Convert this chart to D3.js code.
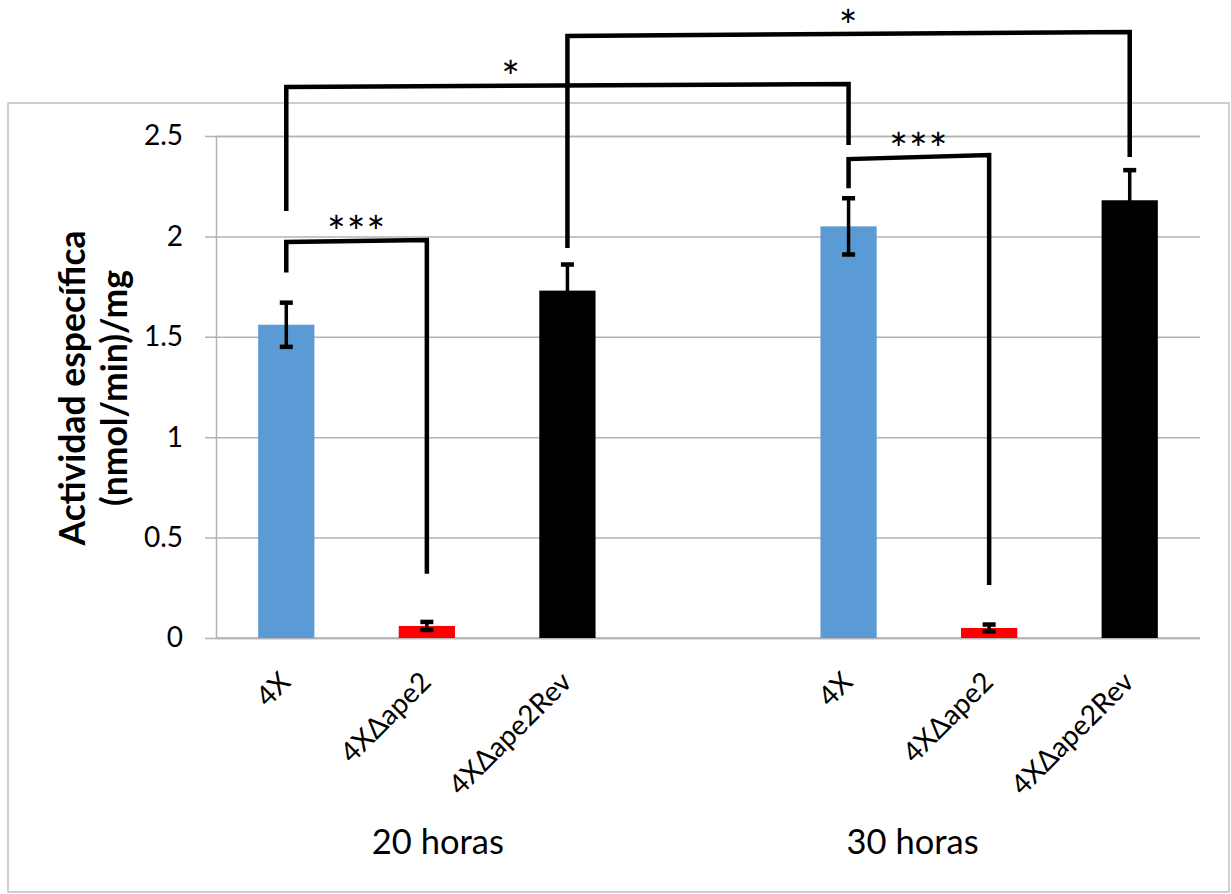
<!DOCTYPE html>
<html>
<head>
<meta charset="utf-8">
<script src="https://cdn.jsdelivr.net/npm/d3@7"></script>
<style>
  body { margin: 0; background: #fff; }
  text { font-family: Lato, "Open Sans", sans-serif; fill: #000; }
</style>
</head>
<body>
<script>
var W = 1231, H = 894;

// data
var times = ["20 horas", "30 horas"];
var strains = ["4X", "4XΔape2", "4XΔape2Rev"];
var colors = ["#5B9BD5", "#FF0000", "#000000"];
var values20 = [1.56, 0.06, 1.73];
var errors20 = [0.11, 0.02, 0.13];
var values30 = [2.05, 0.05, 2.18];
var errors30 = [0.14, 0.017, 0.15];
var yTicks = [0, 0.5, 1, 1.5, 2, 2.5];

// significance brackets: bar index from/to, foot heights and top height in data units
var brackets = [
  {from: 0, to: 1, left: 1.82, right: 0.32, top: [1.972, 1.982], label: "***", at: 0.5},
  {from: 4, to: 5, left: 2.24, right: 0.264, top: [2.385, 2.405], label: "***", at: 0.5},
  {from: 0, to: 4, left: 2.127, right: 2.455, top: [2.744, 2.759], label: "*", at: 0.4},
  {from: 2, to: 6, left: 1.942, right: 2.395, top: [2.998, 3.018], label: "*", at: 0.5}
];

// slots: 3 bars, an empty slot, 3 bars
var bars = [];
strains.forEach((s, i) => bars.push({key: "a" + i, name: s, v: values20[i], e: errors20[i], c: colors[i]}));
bars.push({key: "gap", name: "", v: null});
strains.forEach((s, i) => bars.push({key: "b" + i, name: s, v: values30[i], e: errors30[i], c: colors[i]}));

var svg = d3.select("body").append("svg")
  .attr("width", W).attr("height", H);

// outer chart frame
svg.append("rect")
  .attr("x", 8).attr("y", 103)
  .attr("width", 1221).attr("height", 789)
  .attr("fill", "none").attr("stroke", "#bfbfbf").attr("stroke-width", 1.5);

var x = d3.scaleBand()
  .domain(bars.map(d => d.key))
  .range([216, 1200])
  .paddingInner(0.6)
  .paddingOuter(0.3);

var y = d3.scaleLinear().domain([0, 2.5]).range([638, 136]);

var cx = i => x(bars[i].key) + x.bandwidth() / 2;

// gridlines + y axis
var yAxis = d3.axisLeft(y)
  .tickValues(yTicks)
  .tickFormat(d3.format("~g"))
  .tickSize(-(1200 - 216))
  .tickPadding(33);

var gy = svg.append("g").attr("transform", "translate(216,0)").call(yAxis);
gy.select(".domain").attr("stroke", "#b3b3b3").attr("stroke-width", 1.5);
gy.selectAll(".tick line").attr("stroke", "#b3b3b3").attr("stroke-width", 1.5).attr("x1", -11);
gy.selectAll(".tick text").attr("font-size", 28).attr("font-family", "Lato");

// x baseline
svg.append("line")
  .attr("x1", 216).attr("x2", 1200)
  .attr("y1", y(0)).attr("y2", y(0))
  .attr("stroke", "#b3b3b3").attr("stroke-width", 1.5);

var real = bars.filter(d => d.v !== null);

// bars
svg.append("g").selectAll("rect")
  .data(real)
  .enter()
  .append("rect")
  .attr("x", d => x(d.key))
  .attr("y", d => y(d.v))
  .attr("width", x.bandwidth())
  .attr("height", d => y(0) - y(d.v))
  .attr("fill", d => d.c);

// error bars
var eb = svg.append("g").selectAll("g")
  .data(real)
  .enter()
  .append("g")
  .attr("transform", d => "translate(" + (x(d.key) + x.bandwidth() / 2) + ",0)");

eb.append("line")
  .attr("y1", d => y(d.v - d.e)).attr("y2", d => y(d.v + d.e))
  .attr("stroke", "#000").attr("stroke-width", 3.5);
eb.append("line")
  .attr("x1", -6.5).attr("x2", 6.5)
  .attr("y1", d => y(d.v + d.e)).attr("y2", d => y(d.v + d.e))
  .attr("stroke", "#000").attr("stroke-width", 4.5);
eb.append("line")
  .attr("x1", -6.5).attr("x2", 6.5)
  .attr("y1", d => y(d.v - d.e)).attr("y2", d => y(d.v - d.e))
  .attr("stroke", "#000").attr("stroke-width", 4.5);

// category labels, rotated
svg.append("g").selectAll("text")
  .data(real)
  .enter()
  .append("text")
  .attr("transform", d => "translate(" + (x(d.key) + x.bandwidth() / 2 - 8) + "," + 670 + ") rotate(-45)")
  .attr("text-anchor", "end")
  .attr("dy", "0.7em")
  .attr("font-size", 28)
  .text(d => d.name);

// group labels
var groupX = [x(bars[1].key) + x.bandwidth() / 2 + 11, x(bars[4].key) + x.bandwidth() / 2 + 64];
svg.append("g").selectAll("text")
  .data(times)
  .enter()
  .append("text")
  .attr("x", (d, i) => groupX[i])
  .attr("y", 854)
  .attr("text-anchor", "middle")
  .attr("font-size", 34.5)
  .text(d => d);

// y title
var yt = svg.append("text")
  .attr("transform", "translate(94,388) rotate(-90)")
  .attr("text-anchor", "middle")
  .attr("font-size", 35.5)
  .attr("font-weight", "bold");
yt.append("tspan").attr("x", 0).attr("dy", "-0.25em").text("Actividad específica");
yt.append("tspan").attr("x", 0).attr("dy", "1.18em").text("(nmol/min)/mg");

// significance brackets
var bg = svg.append("g");
brackets.forEach(b => {
  var x1 = cx(b.from), x2 = cx(b.to);
  bg.append("path")
    .attr("d", "M" + x1 + "," + y(b.left) + "L" + x1 + "," + y(b.top[0]) +
               "L" + x2 + "," + y(b.top[1]) + "L" + x2 + "," + y(b.right))
    .attr("fill", "none")
    .attr("stroke", "#000")
    .attr("stroke-width", 4.5);
  bg.append("text")
    .attr("x", x1 + (x2 - x1) * b.at)
    .attr("y", y(b.top[0]) + 6)
    .attr("text-anchor", "middle")
    .attr("font-size", 44)
    .attr("letter-spacing", 1)
    .text(b.label);
});
</script>
</body>
</html>
